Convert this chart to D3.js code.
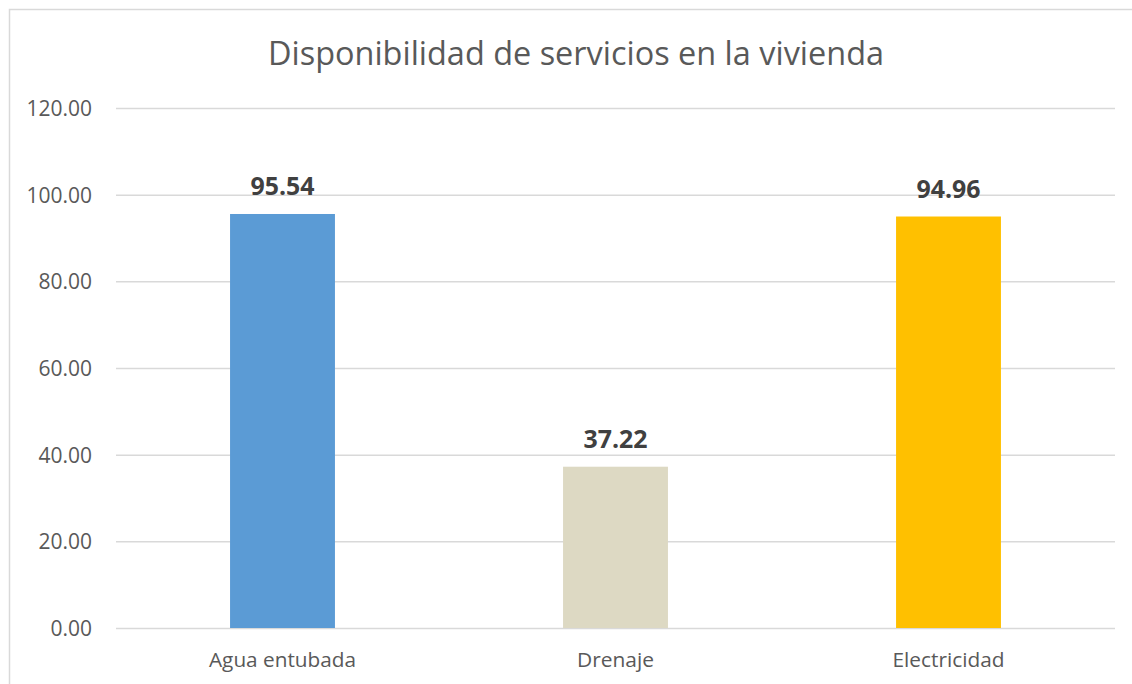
<!DOCTYPE html>
<html><head><meta charset="utf-8">
<script src="https://cdn.jsdelivr.net/npm/d3@7"></script>
<style>body{margin:0;background:#fff;}svg{display:block;font-family:"Open Sans",sans-serif;}</style>
</head><body><svg id="c" width="1132" height="684"></svg>
<script>
const categories = ["Agua entubada", "Drenaje", "Electricidad"];
const values = [95.54, 37.22, 94.96];
const barColors = ["#5B9BD5", "#DDD9C3", "#FFC000"];
const yTicks = [0, 20, 40, 60, 80, 100, 120];
const title = "Disponibilidad de servicios en la vivienda";

(function(){
const svg = d3.select("#c");
svg.append("rect").attr("x", 9.5).attr("y", 9.5).attr("width", 1130).attr("height", 700)
  .attr("fill", "#fff").attr("stroke", "#d9d9d9").attr("stroke-width", 1.5);

const pL = 116, pR = 1115, pT = 108, pB = 628;
const x = d3.scaleBand().domain(categories).range([pL, pR]).padding(0);
const y = d3.scaleLinear().domain([0, 120]).range([pB, pT]);

function fit(sel, w) {
  sel.attr("textLength", w).attr("lengthAdjust", "spacingAndGlyphs");
}

const t = svg.append("text").attr("x", 576).attr("y", 65).attr("text-anchor", "middle")
  .attr("font-size", 32).attr("fill", "#595959").text(title);
fit(t, 616);

const yAxis = d3.axisLeft(y).tickValues(yTicks).tickSize(-(pR - pL)).tickFormat(d3.format(".2f"));
const ga = svg.append("g").attr("transform", `translate(${pL},0)`).call(yAxis);
ga.select(".domain").remove();
ga.selectAll(".tick line").attr("stroke", "#d9d9d9").attr("stroke-width", 1.5);
ga.selectAll(".tick text").attr("x", -24).attr("dy", "0.36em").attr("font-size", 21).attr("fill", "#595959")
  .attr("font-family", "'Open Sans',sans-serif");

const bw = x.bandwidth() * 0.315;
svg.append("g").selectAll("rect").data(values).join("rect")
  .attr("x", (d, i) => x(categories[i]) + x.bandwidth() / 2 - bw / 2)
  .attr("width", bw)
  .attr("y", d => y(d))
  .attr("height", d => y(0) - y(d))
  .attr("fill", (d, i) => barColors[i]);

svg.append("g").selectAll("text").data(values).join("text")
  .attr("x", (d, i) => x(categories[i]) + x.bandwidth() / 2)
  .attr("y", d => y(d) - 19)
  .attr("text-anchor", "middle").attr("font-size", 25).attr("font-weight", "bold")
  .attr("fill", "#404040").text(d => d3.format(".2f")(d))
  .each(function(){ fit(d3.select(this), 64); });

const gx = svg.append("g").attr("transform", `translate(0,${pB})`)
  .call(d3.axisBottom(x).tickSize(0).tickPadding(0));
gx.select(".domain").remove();
gx.selectAll(".tick text").attr("y", 0).attr("dy", 0).attr("transform", "translate(0,39)")
  .attr("font-size", 20).attr("fill", "#595959").attr("font-family", "'Open Sans',sans-serif");
const catW = {"Agua entubada": 147, "Drenaje": 77, "Electricidad": 112};
gx.selectAll(".tick text").each(function(d){ fit(d3.select(this), catW[d]); });
})();
</script></body></html>
